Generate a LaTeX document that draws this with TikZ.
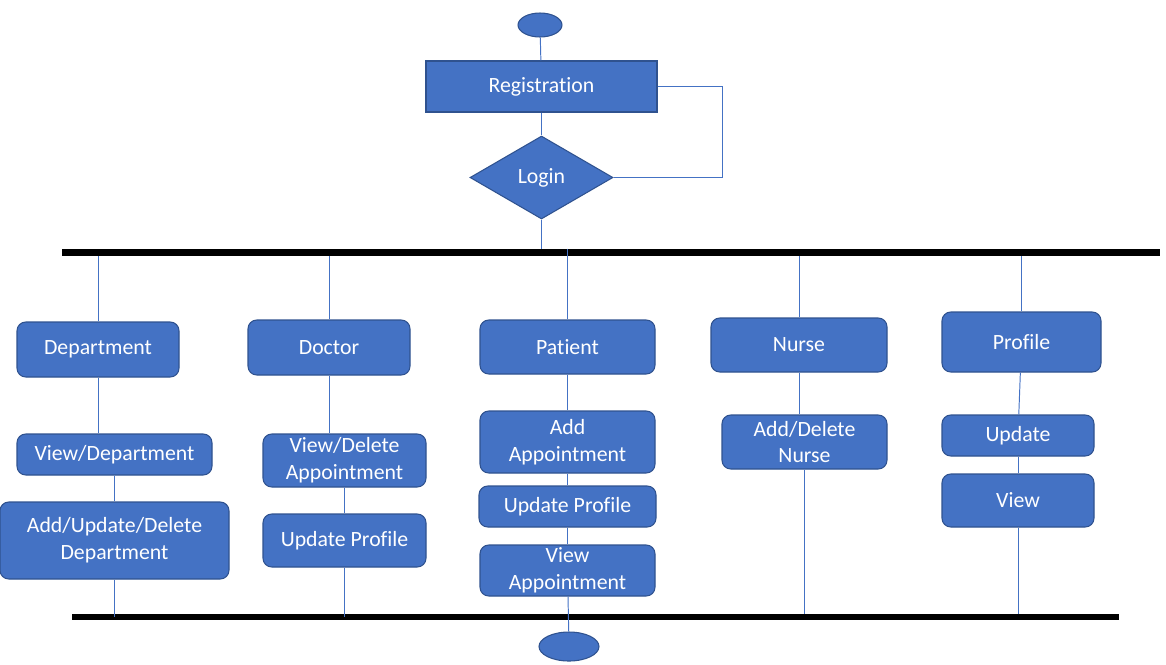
\documentclass[tikz,border=0pt]{standalone}
\usepackage{fontspec}
\setmainfont{Carlito}[Ligatures=NoCommon]
\usetikzlibrary{shapes.geometric}
\definecolor{officeblue}{HTML}{4472C4}
\definecolor{officeedge}{HTML}{2F528F}

\begin{document}
\begin{tikzpicture}[
		x=0.02cm, y=-0.02cm,
		every node/.style = {
			align=center, text=white,
			font=\fontsize{12.4}{15.3}\selectfont},
		boxsize/.style 2 args = {
			minimum width=#1*0.02cm, minimum height=#2*0.02cm},
		box/.style = {
			shape=rectangle, rounded corners=5pt, inner sep=0pt,
			draw=officeedge, fill=officeblue, line width=0.6pt},
		block/.style = {
			shape=rectangle, inner sep=0pt,
			draw=officeedge, fill=officeblue, line width=0.6pt},
		decision/.style = {
			shape=diamond, inner sep=0pt,
			draw=officeedge, fill=officeblue, line width=0.6pt},
		term/.style = {
			shape=ellipse, inner sep=0pt,
			draw=officeedge, fill=officeblue, line width=0.6pt},
		bar/.style = {
			shape=rectangle, inner sep=0pt, fill=black},
		link/.style = {
			draw=officeblue, line width=0.55pt}]
	\useasboundingbox (0,0) rectangle (1166,664);

	% start, registration and login
	\node[term, boxsize={44}{24}] (start) at (540,25) {};
	\node[block, boxsize={231}{51}] (reg) at (541.5,86.5) {Registration};
	\node[decision, boxsize={143}{83}] (login) at (541.5,177.5) {Login};

	% fork and join bars
	\node[bar, boxsize={1098}{7}] (forkbar) at (611,252.5) {};
	\node[bar, boxsize={1047}{6}] (joinbar) at (595.5,617) {};

	% department
	\node[box, boxsize={162}{55}] (dept) at (98,349.5) {Department};
	\node[box, boxsize={195}{41}] (viewdept) at (114.5,454.5) {View/Department};
	\node[box, boxsize={229}{77}] (editdept) at (114.5,540.5) {Add/Update/Delete\\Department};

	% doctor
	\node[box, boxsize={162}{55}] (doctor) at (329,347.5) {Doctor};
	\node[box, boxsize={163}{53}] (viewappt) at (344.5,460.5) {View/Delete\\Appointment};
	\node[box, boxsize={163}{53}] (docprofile) at (344.5,540.5) {Update Profile};

	% patient
	\node[box, boxsize={175}{54}] (patient) at (567.5,347) {Patient};
	\node[box, boxsize={175}{62}] (addappt) at (567.5,442) {Add\\Appointment};
	\node[box, boxsize={177}{41}] (patprofile) at (567.5,506.5) {Update Profile};
	\node[box, boxsize={175}{51}] (patview) at (567.5,570.5) {View\\Appointment};

	% nurse
	\node[box, boxsize={176}{54}] (nurse) at (799,345) {Nurse};
	\node[box, boxsize={165}{54}] (editnurse) at (804.5,442) {Add/Delete\\Nurse};

	% profile
	\node[box, boxsize={159}{60}] (profile) at (1021.5,342) {Profile};
	\node[box, boxsize={152}{41}] (update) at (1018,435.5) {Update};
	\node[box, boxsize={152}{53}] (view) at (1018,500.5) {View};

	\node[term, boxsize={60}{29}] (stop) at (569,646.5) {};

	% connectors
	\draw[link] (start) -- (reg);
	\draw[link] (reg) -- (login);
	\draw[link] (reg.east) -- ++(65,0) |- (login.east);
	\draw[link] (login.south) -- (login.south |- forkbar.north);

	\draw[link] (dept.north |- forkbar.south) -- (dept.north);
	\draw[link] (doctor.north |- forkbar.south) -- (doctor.north);
	\draw[link] (patient.north |- forkbar.north) -- (patient.north);
	\draw[link] (nurse.north |- forkbar.south) -- (nurse.north);
	\draw[link] (profile.north |- forkbar.south) -- (profile.north);

	\draw[link] (dept) -- (dept.south |- viewdept.north);
	\draw[link] (viewdept) -- (editdept);
	\draw[link] (editdept.south) -- (editdept.south |- joinbar.center);

	\draw[link] (doctor) -- (doctor.south |- viewappt.north);
	\draw[link] (viewappt) -- (docprofile);
	\draw[link] (docprofile.south) -- (docprofile.south |- joinbar.center);

	\draw[link] (patient) -- (addappt);
	\draw[link] (addappt) -- (patprofile);
	\draw[link] (patprofile) -- (patview);
	\draw[link] (patview) -- (stop);

	\draw[link] (nurse) -- (nurse.south |- editnurse.north);
	\draw[link] (editnurse.south) -- (editnurse.south |- joinbar.north);

	\draw[link] (profile) -- (update);
	\draw[link] (update) -- (view);
	\draw[link] (view.south) -- (view.south |- joinbar.north);
\end{tikzpicture}
\end{document}
